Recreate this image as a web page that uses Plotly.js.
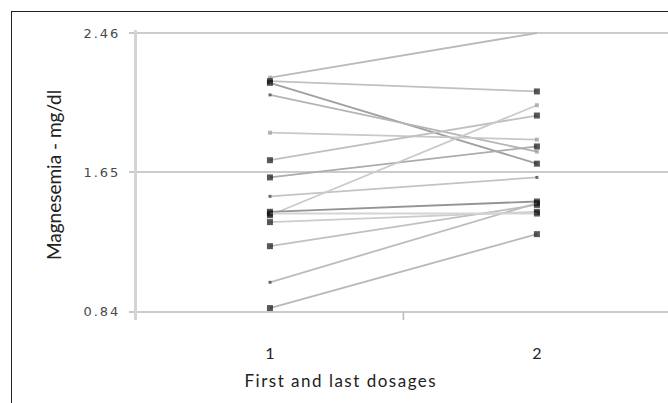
<!DOCTYPE html>
<html>
<head>
<meta charset="utf-8">
<script src="https://cdn.plot.ly/plotly-3.0.1.min.js"></script>
<style>
  html, body { margin:0; padding:0; background:#fff; }
  #wrap { position:relative; width:668px; height:403px; overflow:hidden; }
  #frame { position:absolute; left:11px; top:11px; width:700px; height:440px; border:1px solid #222; box-sizing:border-box; }
  #chart { position:absolute; left:0; top:0; width:668px; height:403px; }
  #chart .ytick text { letter-spacing: 2px; }
</style>
</head>
<body>
<div id="wrap">
  <div id="frame"></div>
  <div id="chart"></div>
</div>
<script>
// Data: first and last magnesemia dosage per patient (mg/dl)
const categories = [1, 2];
const firstDosage = [2.20, 2.18, 2.17, 2.10, 1.88, 1.72, 1.62, 1.51, 1.40, 1.42, 1.36, 1.22, 1.01, 0.86, 1.41];
const lastDosage  = [2.46, 2.12, 1.70, 1.77, 1.84, 1.98, 1.80, 1.62, 2.04, 1.48, 1.42, 1.46, 1.47, 1.29, 1.41];
const yTickVals = [0.84, 1.65, 2.46];
const yTickText = ['0.84', '1.65', '2.46'];
const xTickText = ['1', '2'];
const yTitle = 'Magnesemia - mg/dl';
const xTitle = 'First and last dosages';

// Styles (kept separate from the data)
const lineColors = ['#bababa','#c0c0c0','#a0a0a0','#b4b4b4','#c8c8c8','#c0c0c0','#acacac','#c4c4c4','#cacaca','#949494','#cccccc','#c0c0c0','#bcbcbc','#b8b8b8','#d4d4d4'];
const markFirst = ['g','k','k','s','g','k','k','s','k','k','k','k','s','k','k'];
const markLast  = ['n','k','k','g','g','k','k','s','g','k','k','k','k','k','k'];
function mk(code){
  if (code === 'k') return {c:'#111', s:6};
  if (code === 's') return {c:'#333', s:3};
  if (code === 'g') return {c:'#999', s:4};
  return {c:'rgba(0,0,0,0)', s:1};
}

const traces = firstDosage.map((f, i) => {
  const a = mk(markFirst[i]), b = mk(markLast[i]);
  return {
    x: categories,
    y: [f, lastDosage[i]],
    type: 'scatter',
    mode: 'lines+markers',
    line: {color: lineColors[i], width: 1.8},
    marker: {symbol: 'square', color: [a.c, b.c], size: [a.s, b.s], line: {width: 0}},
    showlegend: false,
    hoverinfo: 'y'
  };
});

const yBottom = 0.7906, yTop = 2.4775;

const layout = {
  width: 668, height: 403,
  margin: {l: 137, r: 0, t: 30, b: 83, pad: 0},
  paper_bgcolor: 'rgba(0,0,0,0)',
  plot_bgcolor: 'rgba(0,0,0,0)',
  showlegend: false,
  xaxis: {
    range: [0.502, 2.491],
    tickvals: categories,
    ticktext: xTickText,
    ticks: '',
    showgrid: false,
    zeroline: false,
    showline: false,
    ticklabelstandoff: 22,
    tickfont: {family: 'Lato, "Open Sans", sans-serif', size: 16, color: '#222'}
  },
  yaxis: {
    range: [yBottom, yTop],
    tickvals: yTickVals,
    ticktext: yTickText,
    ticks: 'outside',
    ticklen: 5,
    tickwidth: 2,
    tickcolor: '#c8c8c8',
    showgrid: true,
    gridcolor: '#cccccc',
    gridwidth: 2,
    zeroline: false,
    showline: true,
    linecolor: '#d4d4d4',
    linewidth: 3,
    ticklabelstandoff: 6,
    tickfont: {family: '"DejaVu Sans", Arial, sans-serif', size: 13, color: '#4a4a4a'}
  },
  shapes: [
    {type: 'line', xref: 'x', yref: 'y', x0: 1.5, x1: 1.5, y0: yTickVals[0], y1: yBottom,
     line: {color: '#bbbbbb', width: 1.5}}
  ],
  annotations: [
    {text: '<span class="xt">' + xTitle + '</span>', xref: 'paper', yref: 'paper', x: 0.384, y: -0.207,
     xanchor: 'center', yanchor: 'middle', showarrow: false,
     font: {family: 'Lato, "Open Sans", sans-serif', size: 17, color: '#222'}},
    {text: yTitle, xref: 'paper', yref: 'paper', x: -0.158, y: 0.50, textangle: -90,
     xanchor: 'center', yanchor: 'middle', showarrow: false,
     font: {family: 'Lato, "Open Sans", sans-serif', size: 19, color: '#222'}}
  ]
};

Plotly.newPlot('chart', traces, layout, {staticPlot: true, displayModeBar: false}).then(() => {
  const t = document.querySelectorAll('#chart .annotation-text');
  if (t[0]) t[0].style.letterSpacing = '1.5px';
});
</script>
</body>
</html>
